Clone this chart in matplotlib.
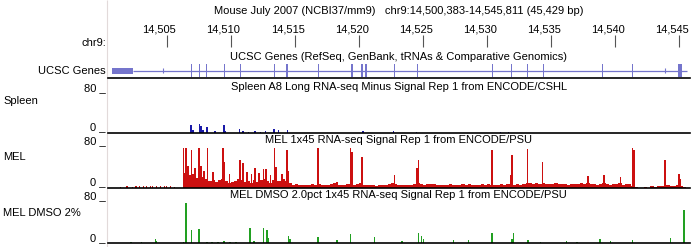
import numpy as np
import matplotlib
matplotlib.use('Agg')
import matplotlib.pyplot as plt
from matplotlib.patches import Rectangle

plt.rcParams['font.family'] = ['Liberation Sans', 'DejaVu Sans']

# ---------------- data ----------------
START, END = 14500.383, 14545.811  # kb on chr9

title_text = "Mouse July 2007 (NCBI37/mm9)   chr9:14,500,383-14,545,811 (45,429 bp)"
ruler_ticks = [14505, 14510, 14515, 14520, 14525, 14530, 14535, 14540, 14545]
ruler_labels = ["14,505", "14,510", "14,515", "14,520", "14,525", "14,530", "14,535", "14,540", "14,545"]

gene_block = [14500.75, 14502.39]
gene_line = [14502.39, 14545.60]
gene_minor_ticks = [14504.73, 14543.85]
gene_exons = [14506.90, 14507.55, 14508.13, 14509.48, 14510.73, 14513.38, 14514.42,
              14516.84, 14519.45, 14520.23, 14520.57, 14522.76, 14524.58, 14530.39,
              14531.88, 14533.13, 14534.38, 14538.98, 14541.33, 14545.05]
gene_exon_w = [0.08, 0.08, 0.08, 0.10, 0.08, 0.08, 0.16,
               0.08, 0.10, 0.10, 0.16, 0.10, 0.08, 0.08,
               0.10, 0.08, 0.08, 0.08, 0.08, 0.25]

track_titles = ["UCSC Genes (RefSeq, GenBank, tRNAs & Comparative Genomics)",
                "Spleen A8 Long RNA-seq Minus Signal Rep 1 from ENCODE/CSHL",
                "MEL 1x45 RNA-seq Signal Rep 1 from ENCODE/PSU",
                "MEL DMSO 2.0pct 1x45 RNA-seq Signal Rep 1 from ENCODE/PSU"]
track_names = ["Spleen", "MEL", "MEL DMSO 2%"]

spleen_pos = [14506.90, 14507.05, 14507.55, 14507.68, 14507.84, 14508.13, 14508.77,
              14509.48, 14509.60, 14510.67, 14510.96, 14511.40, 14511.90, 14512.30,
              14512.70, 14513.38, 14513.72, 14514.42, 14520.31, 14522.70, 14524.48,
              14531.04, 14531.66]
spleen_val = [15, 5, 17, 13, 6, 11, 3,
              14, 3, 7, 3, 2, 3, 2,
              3, 7, 5, 5, 3, 4, 2,
              2, 2]

mel_pos = [14506.30, 14506.51, 14506.66, 14506.95, 14507.20, 14507.52, 14507.68, 14507.90,
           14508.17, 14508.60, 14509.38, 14509.48, 14509.90, 14510.73, 14510.94, 14511.25,
           14511.60, 14511.90, 14512.20, 14512.55, 14512.73, 14513.10, 14513.41, 14513.54,
           14514.00, 14514.38, 14514.50, 14516.80, 14518.28, 14519.32, 14519.45, 14520.23,
           14522.76, 14524.53, 14524.66, 14530.39, 14531.86, 14531.95, 14533.13, 14534.34,
           14537.86, 14539.11, 14540.41, 14541.33, 14541.45, 14543.88, 14544.97, 14545.10]
mel_val = [72, 71, 40, 68, 35, 72, 40, 30,
           72, 28, 72, 47, 25, 50, 45, 29,
           24, 35, 26, 33, 34, 22, 72, 38,
           25, 68, 30, 72, 10, 72, 65, 56,
           22, 35, 50, 68, 22, 60, 70, 46,
           21, 23, 19, 72, 68, 50, 25, 15]

# small background spikes in the left, low region
mel_low_pos = [14501.4, 14501.9, 14502.3, 14502.6, 14502.9, 14503.2, 14503.4, 14503.7,
               14503.9, 14504.2, 14504.5, 14504.8, 14505.0, 14505.3, 14505.6]
mel_low_val = [1, 2, 1, 3, 2, 3, 2, 3, 2, 3, 2, 2, 3, 2, 1]

# background signal in 0.25 kb bins starting at 14506.25
mel_bg_start, mel_bg_step = 14506.25, 0.25
mel_bg = [26, 28, 22, 24, 18, 15, 20, 16, 12, 14, 10, 13, 16,
          12, 9, 10, 12, 16, 14, 10, 12, 9, 14, 10, 13, 16, 11, 9, 14,
          11, 12, 15, 12, 8,
          5, 6, 4, 5, 4, 5, 6, 4, 6, 5, 4, 5, 6, 9, 5, 4, 5, 6, 7, 5,
          6, 8, 5, 4, 4, 5, 3, 4, 5, 4, 6, 8, 7, 5, 4, 5, 4, 5, 6, 8,
          6, 5, 7, 6, 7, 5, 4, 5, 5, 6, 4, 5, 4, 6, 5, 7, 5, 4, 5, 6,
          5, 7, 5, 4, 5, 6, 5, 7, 4, 5, 6, 5, 6, 8, 9, 7, 8, 7, 9, 6,
          7, 6, 8, 7, 6, 7, 5, 6, 7, 6, 8, 7, 8, 6, 7, 5, 6, 8, 7, 5,
          7, 6, 8, 5, 6, 7, 3, 1, 0, 0, 1, 0, 2, 1, 2, 3, 3, 4, 2, 3,
          4, 3, 1, 0]

dmso_pos = [14502.21, 14503.05, 14504.14, 14504.20, 14506.30, 14506.51, 14506.95, 14507.52,
            14508.15, 14508.54, 14509.00, 14509.48, 14509.95, 14510.41, 14511.51, 14511.82,
            14512.55, 14512.81, 14512.94, 14514.50, 14514.63, 14516.80, 14518.28, 14519.32,
            14521.22, 14523.36, 14524.66, 14524.87, 14525.05, 14527.39, 14528.56, 14530.39,
            14531.95, 14532.08, 14533.20, 14534.16, 14536.20, 14537.03, 14538.80, 14539.63,
            14541.33, 14544.32, 14545.36]
dmso_val = [2, 2, 8, 5, 3, 73, 24, 25,
            3, 3, 3, 4, 3, 2, 27, 5,
            27, 24, 10, 13, 8, 11, 6, 16,
            11, 4, 18, 13, 8, 6, 6, 18,
            8, 18, 6, 3, 5, 3, 8, 4,
            6, 9, 61]

# ---------------- layout (pixels) ----------------
W, H = 691, 247
X0, X1 = 107.6, 689.7
XC = (X0 + X1) / 2
FS = 8
LABEL_SHIFT = -0.57  # ruler labels sit a little left of their tick

fig = plt.figure(figsize=(W / 100, H / 100), dpi=100)
fig.patch.set_facecolor('white')


def add_ax(y_top, y_bot):
    return fig.add_axes([X0 / W, 1 - y_bot / H, (X1 - X0) / W, (y_bot - y_top) / H])


ov = fig.add_axes([0, 0, 1, 1])
ov.set_xlim(0, W)
ov.set_ylim(H, 0)
ov.axis('off')
ov.vlines(107.3, 0, H, color='#e2dada', lw=0.8)

# ruler + genes axis
top = add_ax(0, 80)
top.set_xlim(START, END)
top.set_ylim(80, 0)
top.axis('off')
top.vlines(ruler_ticks, 35, 47, color='#555555', lw=0.8)
for t, lab in zip(ruler_ticks, ruler_labels):
    top.text(t + LABEL_SHIFT, 29.5, lab, ha='center', va='center', fontsize=FS)

gcol = '#7575cc'
top.hlines(71, gene_line[0], gene_line[1], color=gcol, lw=0.9)
top.add_patch(Rectangle((gene_block[0], 67.8), gene_block[1] - gene_block[0], 6.5,
                        facecolor=gcol, edgecolor='none'))
top.bar(gene_exons, [13] * len(gene_exons), bottom=64.5, width=gene_exon_w,
        color=gcol, linewidth=0)
top.vlines(gene_minor_ticks, 68.5, 73.5, color=gcol, lw=0.8)
top.axhline(78, color='black', lw=1.2, clip_on=False)

ov.text(XC, 11, title_text, ha='center', va='center', fontsize=FS)
ov.text(106, 43, "chr9:", ha='right', va='center', fontsize=FS)
ov.text(XC, 57, track_titles[0], ha='center', va='center', fontsize=FS)
ov.text(106, 71, "UCSC Genes", ha='right', va='center', fontsize=FS)

tracks = [
    (89, 133, spleen_pos, spleen_val, '#1a1aa8', 87, 101, 127),
    (143.5, 187.5, mel_pos, mel_val, '#cc1010', 140, 157, 182),
    (199, 243.3, dmso_pos, dmso_val, '#22a022', 195, 213, 238),
]

for i, (yt, yb, pos, val, col, ytitle, yname, yzero) in enumerate(tracks):
    ax = add_ax(yt, yb)
    ax.set_xlim(START, END)
    ax.set_ylim(0, 80)
    ax.axis('off')
    if i == 1:
        bx = [mel_bg_start + k * mel_bg_step for k in range(len(mel_bg))]
        ax.bar(bx, mel_bg, width=mel_bg_step, align='edge', color=col, linewidth=0)
        ax.bar(mel_low_pos, mel_low_val, width=0.09, color=col, linewidth=0)
    ax.bar(pos, val, width=0.11, color=col, linewidth=0)
    ax.axhline(0, color='black', lw=1.2, clip_on=False, zorder=5)
    ov.text(XC, ytitle, track_titles[i + 1], ha='center', va='center', fontsize=FS)
    ov.text(3, yname, track_names[i], ha='left', va='center', fontsize=FS)
    ov.text(106, ytitle + 1, "80 _", ha='right', va='center', fontsize=FS)
    ov.text(106, yzero, "0 _", ha='right', va='center', fontsize=FS)

fig.savefig('out.png', dpi=100)
